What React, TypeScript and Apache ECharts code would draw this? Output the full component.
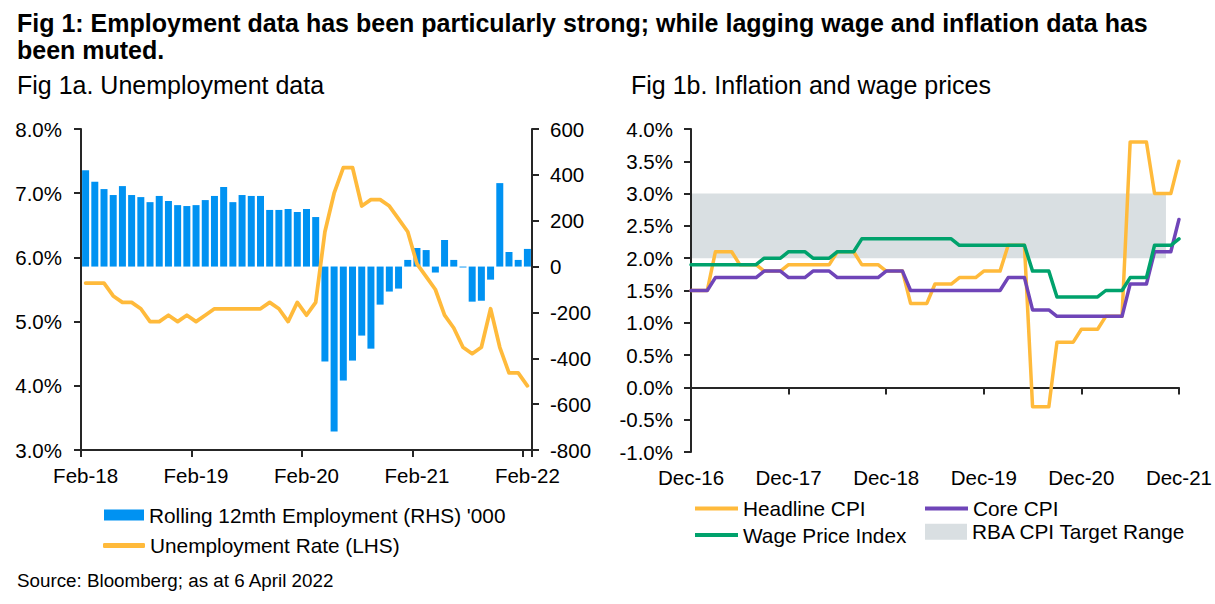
import React, { useEffect, useRef } from "react";
import * as echarts from "echarts";

// ---------- Fig 1a data (monthly, Feb-18 .. Feb-22) ----------
const MONTHS_A = [
  "Feb-18", "Mar-18", "Apr-18", "May-18", "Jun-18", "Jul-18", "Aug-18", "Sep-18", "Oct-18", "Nov-18", "Dec-18",
  "Jan-19", "Feb-19", "Mar-19", "Apr-19", "May-19", "Jun-19", "Jul-19", "Aug-19", "Sep-19", "Oct-19", "Nov-19", "Dec-19",
  "Jan-20", "Feb-20", "Mar-20", "Apr-20", "May-20", "Jun-20", "Jul-20", "Aug-20", "Sep-20", "Oct-20", "Nov-20", "Dec-20",
  "Jan-21", "Feb-21", "Mar-21", "Apr-21", "May-21", "Jun-21", "Jul-21", "Aug-21", "Sep-21", "Oct-21", "Nov-21", "Dec-21",
  "Jan-22", "Feb-22",
];
// Rolling 12mth Employment (RHS) '000
const EMPLOYMENT = [
  420, 370, 338, 312, 351, 312, 303, 281, 308, 286, 268,
  264, 268, 290, 308, 347, 281, 312, 308, 308, 247, 247, 251,
  238, 251, 216, -414, -719, -497, -410, -301, -358, -166, -109, -96,
  29, 81, 72, -26, 116, 29, -4, -153, -149, -57, 364, 64,
  29, 77,
];
// Unemployment Rate (LHS) %
const UNEMPLOYMENT = [
  5.6, 5.6, 5.6, 5.4, 5.3, 5.3, 5.2, 5.0, 5.0, 5.1, 5.0,
  5.1, 5.0, 5.1, 5.2, 5.2, 5.2, 5.2, 5.2, 5.2, 5.3, 5.2, 5.0,
  5.3, 5.1, 5.3, 6.4, 7.0, 7.4, 7.4, 6.8, 6.9, 6.9, 6.8, 6.6,
  6.4, 5.9, 5.7, 5.5, 5.1, 4.9, 4.6, 4.5, 4.6, 5.2, 4.6, 4.2,
  4.2, 4.0,
];

// ---------- Fig 1b data (quarterly, Dec-16 .. Dec-21, shown on a monthly axis) ----------
const DEC_LABELS = ["Dec-16", "Dec-17", "Dec-18", "Dec-19", "Dec-20", "Dec-21"];
const QUARTERS = [
  "Dec-16", "Mar-17", "Jun-17", "Sep-17", "Dec-17", "Mar-18", "Jun-18", "Sep-18", "Dec-18",
  "Mar-19", "Jun-19", "Sep-19", "Dec-19", "Mar-20", "Jun-20", "Sep-20", "Dec-20",
  "Mar-21", "Jun-21", "Sep-21", "Dec-21",
];
const HEADLINE_CPI = [1.5, 2.1, 1.9, 1.8, 1.9, 1.9, 2.1, 1.9, 1.8, 1.3, 1.6, 1.7, 1.8, 2.2, -0.3, 0.7, 0.9, 1.1, 3.8, 3.0, 3.5];
const CORE_CPI = [1.5, 1.7, 1.7, 1.8, 1.7, 1.8, 1.7, 1.7, 1.8, 1.5, 1.5, 1.5, 1.5, 1.7, 1.2, 1.1, 1.1, 1.1, 1.6, 2.1, 2.6];
const WAGE_PRICE_INDEX = [1.9, 1.9, 1.9, 2.0, 2.1, 2.0, 2.1, 2.3, 2.3, 2.3, 2.3, 2.2, 2.2, 2.2, 1.8, 1.4, 1.4, 1.5, 1.7, 2.2, 2.3];
const RBA_RANGE = [2, 3];
const RBA_SPAN = [-1.7, 58.4]; // months from Dec-16 covered by the shaded band

const FONT = "'Liberation Sans', Arial, Helvetica, sans-serif";
const AXIS = "#262626";
const BLUE = "#0092F2";
const ORANGE = "#FFBA3B";
const PURPLE = "#6F45B8";
const GREEN = "#00A26C";
const GREY = "#D9DFE2";

// each quarterly reading is held for the following months until the next release
function toMonthly(q: number[]) {
  const out: [number, number][] = [];
  for (let m = 0; m <= (q.length - 1) * 3; m++) out.push([m, q[Math.floor(m / 3)]]);
  return out;
}

function legendItem(name: string, left: number, top: number, w: number, h: number, color: string, icon = "rect") {
  return {
    left,
    top,
    padding: 0,
    selectedMode: false,
    itemWidth: w,
    itemHeight: h,
    itemStyle: { borderWidth: 0 },
    textStyle: { fontFamily: FONT, fontSize: 20.8, lineHeight: 20, color: "#000" },
    data: [{ name, icon, itemStyle: { color, borderWidth: 0 } }],
  };
}

export default function App() {
  const ref = useRef<HTMLDivElement>(null);

  useEffect(() => {
    if (!ref.current) return;
    const chart = echarts.init(ref.current, undefined, { renderer: "svg" });

    const axisLabel = { fontFamily: FONT, fontSize: 20.5, color: "#000" };
    const axisLine = { show: true, onZero: false, lineStyle: { color: AXIS, width: 2 } };
    const axisTick = { show: true, length: 7, lineStyle: { color: AXIS, width: 2 } };

    const option: any = {
      animation: false,
      backgroundColor: "#fff",
      textStyle: { fontFamily: FONT },
      title: [
        {
          text: "Fig 1: Employment data has been particularly strong; while lagging wage and inflation data has\nbeen muted.",
          left: 17,
          top: 9,
          padding: 0,
          textStyle: { fontFamily: FONT, fontSize: 25, fontWeight: "bold", lineHeight: 27, color: "#000" },
        },
        {
          text: "Fig 1a. Unemployment data",
          left: 17,
          top: 70.5,
          padding: 0,
          textStyle: { fontFamily: FONT, fontSize: 25, fontWeight: "normal", lineHeight: 28, color: "#000" },
        },
        {
          text: "Fig 1b. Inflation and wage prices",
          left: 631,
          top: 70.5,
          padding: 0,
          textStyle: { fontFamily: FONT, fontSize: 25, fontWeight: "normal", lineHeight: 28, color: "#000" },
        },
        {
          text: "Source: Bloomberg; as at 6 April 2022",
          left: 17,
          top: 570,
          padding: 0,
          textStyle: { fontFamily: FONT, fontSize: 18.8, fontWeight: "normal", lineHeight: 20, color: "#000" },
        },
      ],
      legend: [
        legendItem("Rolling 12mth Employment (RHS) '000", 104, 504.5, 40, 11, BLUE),
        legendItem("Unemployment Rate (LHS)", 103, 535, 42, 5, ORANGE, "roundRect"),
        legendItem("Headline CPI", 695, 498, 43, 4, ORANGE),
        legendItem("Core CPI", 925, 498, 43, 4, PURPLE),
        legendItem("Wage Price Index", 695, 524.5, 43, 4, GREEN),
        legendItem("RBA CPI Target Range", 925, 521.3, 42, 16, GREY),
      ],
      grid: [
        { left: 81, top: 129, width: 451, height: 321 },
        { left: 691, top: 129, width: 490, height: 323 },
      ],
      xAxis: [
        {
          type: "category",
          gridIndex: 0,
          data: MONTHS_A,
          boundaryGap: true,
          axisLine,
          axisTick: { ...axisTick, interval: 11, alignWithLabel: false },
          axisLabel: { ...axisLabel, interval: 11, margin: 15 },
          splitLine: { show: false },
        },
        {
          type: "value",
          gridIndex: 1,
          min: 0,
          max: 60,
          interval: 12,
          position: "bottom",
          axisLine: { show: true, onZero: true, lineStyle: { color: AXIS, width: 2 } },
          axisTick,
          axisLabel: { show: false },
          splitLine: { show: false },
        },
        {
          type: "value",
          gridIndex: 1,
          min: 0,
          max: 60,
          interval: 12,
          position: "bottom",
          axisLine: { show: false, onZero: false },
          axisTick: { show: false },
          axisLabel: {
            ...axisLabel,
            margin: 15,
            showMinLabel: true,
            showMaxLabel: true,
            formatter: (v: number) => DEC_LABELS[Math.round(v / 12)] ?? "",
          },
          splitLine: { show: false },
        },
      ],
      yAxis: [
        {
          type: "value",
          gridIndex: 0,
          position: "left",
          min: 3,
          max: 8,
          interval: 1,
          axisLine,
          axisTick,
          axisLabel: { ...axisLabel, margin: 19, formatter: (v: number) => v.toFixed(1) + "%" },
          splitLine: { show: false },
        },
        {
          type: "value",
          gridIndex: 0,
          position: "right",
          min: -800,
          max: 600,
          interval: 200,
          axisLine,
          axisTick,
          axisLabel: { ...axisLabel, margin: 18 },
          splitLine: { show: false },
        },
        {
          type: "value",
          gridIndex: 1,
          position: "left",
          min: -1,
          max: 4,
          interval: 0.5,
          axisLine,
          axisTick,
          axisLabel: { ...axisLabel, margin: 18, formatter: (v: number) => v.toFixed(1) + "%" },
          splitLine: { show: false },
        },
      ],
      series: [
        {
          name: "Rolling 12mth Employment (RHS) '000",
          type: "bar",
          xAxisIndex: 0,
          yAxisIndex: 1,
          data: EMPLOYMENT,
          barCategoryGap: "24%",
          itemStyle: { color: BLUE },
        },
        {
          name: "Unemployment Rate (LHS)",
          type: "line",
          xAxisIndex: 0,
          yAxisIndex: 0,
          data: UNEMPLOYMENT,
          symbol: "none",
          lineStyle: { color: ORANGE, width: 3.75, cap: "round", join: "round" },
          itemStyle: { color: ORANGE },
          z: 3,
        },
        {
          name: "RBA CPI Target Range",
          type: "line",
          xAxisIndex: 1,
          yAxisIndex: 2,
          data: [
            [RBA_SPAN[0], RBA_RANGE[1]],
            [RBA_SPAN[1], RBA_RANGE[1]],
          ],
          symbol: "none",
          clip: false,
          silent: true,
          lineStyle: { width: 0, opacity: 0 },
          areaStyle: { origin: RBA_RANGE[0], color: GREY, opacity: 1 },
          itemStyle: { color: GREY },
          z: -1,
        },
        {
          name: "Headline CPI",
          type: "line",
          xAxisIndex: 1,
          yAxisIndex: 2,
          data: toMonthly(HEADLINE_CPI),
          symbol: "none",
          lineStyle: { color: ORANGE, width: 3.5, cap: "round", join: "round" },
          itemStyle: { color: ORANGE },
        },
        {
          name: "Core CPI",
          type: "line",
          xAxisIndex: 1,
          yAxisIndex: 2,
          data: toMonthly(CORE_CPI),
          symbol: "none",
          lineStyle: { color: PURPLE, width: 3.5, cap: "round", join: "round" },
          itemStyle: { color: PURPLE },
        },
        {
          name: "Wage Price Index",
          type: "line",
          xAxisIndex: 1,
          yAxisIndex: 2,
          data: toMonthly(WAGE_PRICE_INDEX),
          symbol: "none",
          lineStyle: { color: GREEN, width: 3.5, cap: "round", join: "round" },
          itemStyle: { color: GREEN },
        },
      ],
    };

    chart.setOption(option);
    return () => chart.dispose();
  }, []);

  return (
    <div
      ref={ref}
      data-quarters={QUARTERS.length}
      style={{ position: "absolute", left: 0, top: 0, width: 1215, height: 604, background: "#fff" }}
    />
  );
}
